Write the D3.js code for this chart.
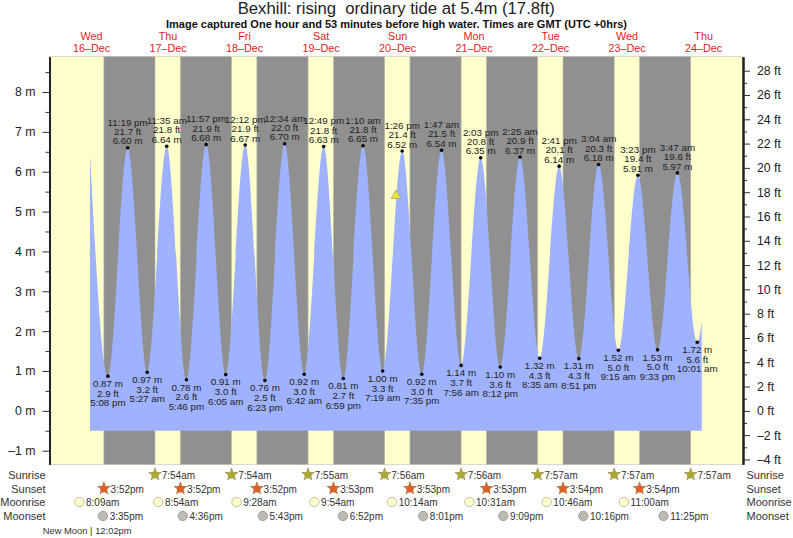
<!DOCTYPE html>
<html lang="en">
	<head>
		<meta charset="utf-8">
		<title>Bexhill tide chart</title>
		<script type="text/javascript" src="https://cdn.jsdelivr.net/npm/d3@7"></script>
		<style type="text/css">
			html, body { margin: 0; padding: 0; background: #fff; }
			svg { display: block; }
			text { font-family: "Liberation Sans", Arial, sans-serif; white-space: pre; }
		</style>
	</head>
	<body>
		<script type="text/javascript">
			// Tide turning points (first and last are the cut-off ends of the curve)
			var tideTimes = ["12-16T11:30","12-16T17:08","12-16T23:19","12-17T05:27","12-17T11:35","12-17T17:46","12-17T23:57",
				"12-18T06:05","12-18T12:12","12-18T18:23","12-19T00:34","12-19T06:42","12-19T12:49","12-19T18:59",
				"12-20T01:10","12-20T07:19","12-20T13:26","12-20T19:35","12-21T01:47","12-21T07:56","12-21T14:03",
				"12-21T20:12","12-22T02:25","12-22T08:35","12-22T14:41","12-22T20:51","12-23T03:04","12-23T09:15",
				"12-23T15:23","12-23T21:33","12-24T03:47","12-24T10:01","12-24T11:25"];
			var tideMetres = [6.46,0.87,6.60,0.97,6.64,0.78,6.68,0.91,6.67,0.76,6.70,0.92,6.63,0.81,6.65,1.00,6.52,0.92,6.54,
				1.14,6.35,1.10,6.37,1.32,6.14,1.31,6.18,1.52,5.91,1.53,5.97,1.72,2.23];
			var tideFeet = [null,2.9,21.7,3.2,21.8,2.6,21.9,3.0,21.9,2.5,22.0,3.0,21.8,2.7,21.8,3.3,21.4,3.0,21.5,
				3.7,20.8,3.6,20.9,4.3,20.1,4.3,20.3,5.0,19.4,5.0,19.6,5.6,null];

			var sunrises = ["12-17T07:54","12-18T07:54","12-19T07:55","12-20T07:56","12-21T07:56","12-22T07:57","12-23T07:57","12-24T07:57"];
			var sunsets = ["12-16T15:52","12-17T15:52","12-18T15:52","12-19T15:53","12-20T15:53","12-21T15:53","12-22T15:54","12-23T15:54"];
			var moonrises = ["12-16T08:09","12-17T08:54","12-18T09:28","12-19T09:54","12-20T10:14","12-21T10:31","12-22T10:46","12-23T11:00"];
			var moonsets = ["12-16T15:35","12-17T16:36","12-18T17:43","12-19T18:52","12-20T20:01","12-21T21:09","12-22T22:16","12-23T23:25"];

			var dayNoons = ["12-16T12:00","12-17T12:00","12-18T12:00","12-19T12:00","12-20T12:00","12-21T12:00","12-22T12:00","12-23T12:00","12-24T12:00"];
			var dayNames = ["Wed","Thu","Fri","Sat","Sun","Mon","Tue","Wed","Thu"];
			var dayDates = ["16–Dec","17–Dec","18–Dec","19–Dec","20–Dec","21–Dec","22–Dec","23–Dec","24–Dec"];

			var metreTicks = [-1,0,1,2,3,4,5,6,7,8];
			var metreMinor = [-0.5,0.5,1.5,2.5,3.5,4.5,5.5,6.5,7.5,8.5];
			var feetTicks = [-4,-2,0,2,4,6,8,10,12,14,16,18,20,22,24,26,28];
			var feetMinor = [-3,-1,1,3,5,7,9,11,13,15,17,19,21,23,25,27];

			var nowTime = "12-20T11:33";
			var nowMetres = 5.4;
			var waterFloor = -0.5;

			var w = 793;
			var h = 538;
			var left = 49.5, right = 743, top_ = 56.7, bottom = 464.3;

			function t(s) { return new Date("2020-" + s + "Z"); }

			var svg = d3.select("body").append("svg").attr("width", w).attr("height", h);

			// x is pinned on two sunrises, y on the 8 m and -1 m gridlines
			var x = d3.scaleUtc().domain([t("12-17T07:54"), t("12-24T07:57")]).range([155, 690.7]);
			var y = d3.scaleLinear().domain([-1, 8]).range([450.7, 92]);
			var yFeet = d3.scaleLinear().domain([-1 / 0.3048, 8 / 0.3048]).range([450.7, 92]);

			// Day / night background
			svg.append("rect").attr("x", left).attr("y", top_).attr("width", right - left).attr("height", bottom - top_)
				.attr("fill", "#ffffcc").attr("stroke", "#c4c4b4").attr("stroke-width", 0.6);
			svg.selectAll("rect.night")
				.data(sunsets)
				.enter()
				.append("rect")
				.attr("class", "night")
				.attr("x", function(d) { return x(t(d)); })
				.attr("y", top_)
				.attr("width", function(d, i) { return x(t(sunrises[i])) - x(t(d)); })
				.attr("height", bottom - top_)
				.attr("fill", "#909090")
				.attr("stroke", "#b8b8a8")
				.attr("stroke-width", 0.6);

			// Water
			var tide = tideTimes.map(function(d, i) { return { time: t(d), m: tideMetres[i], ft: tideFeet[i] }; });
			var area = d3.area()
				.x(function(d) { return x(d.time); })
				.y0(y(waterFloor))
				.y1(function(d) { return y(d.m); })
				.curve(d3.curveMonotoneX);
			svg.append("path").datum(tide).attr("d", area).attr("fill", "#9fb2ff");

			// Axes
			function styleAxis(g, width) {
				g.select(".domain").attr("stroke", "#222").attr("stroke-width", width);
				g.selectAll("line").attr("stroke", "#333").attr("stroke-width", 1);
				g.selectAll("text").attr("fill", "#222").attr("font-size", 12.3).attr("font-family", "Liberation Sans");
			}
			var yExtended = y.copy().domain([y.invert(bottom), y.invert(top_)]).range([bottom, top_]);
			var ftExtended = yFeet.copy().domain([yFeet.invert(bottom), yFeet.invert(top_)]).range([bottom, top_]);

			svg.append("g").attr("transform", "translate(" + left + ",0)")
				.call(d3.axisLeft(yExtended).tickValues(metreMinor).tickSize(4).tickSizeOuter(0).tickFormat(""))
				.call(styleAxis, 2);
			svg.append("g").attr("transform", "translate(" + left + ",0)")
				.call(d3.axisLeft(yExtended).tickValues(metreTicks).tickSize(7).tickSizeOuter(0).tickPadding(7)
					.tickFormat(function(d) { return (d < 0 ? "–" + (-d) : d) + " m"; }))
				.call(styleAxis, 2);
			svg.append("g").attr("transform", "translate(" + right + ",0)")
				.call(d3.axisRight(ftExtended).tickValues(feetMinor).tickSize(4).tickSizeOuter(0).tickFormat(""))
				.call(styleAxis, 2);
			svg.append("g").attr("transform", "translate(" + right + ",0)")
				.call(d3.axisRight(ftExtended).tickValues(feetTicks).tickSize(7).tickSizeOuter(0).tickPadding(7)
					.tickFormat(function(d) { return (d < 0 ? "–" + (-d) : d) + " ft"; }))
				.call(styleAxis, 2);

			// High and low water dots and labels
			var clock = d3.utcFormat("%-I:%M %p");
			var turning = tide.filter(function(d) { return d.ft !== null; });
			svg.selectAll("circle.turn")
				.data(turning)
				.enter()
				.append("circle")
				.attr("class", "turn")
				.attr("cx", function(d) { return x(d.time); })
				.attr("cy", function(d) { return y(d.m); })
				.attr("r", 1.8)
				.attr("fill", "#000");

			turning.forEach(function(d) {
				var isHigh = d.m > 3;
				var lines = [clock(d.time).toLowerCase(), d.ft.toFixed(1) + " ft", d.m.toFixed(2) + " m"];
				var offsets = [-22.2, -12.8, -3.4];
				if (!isHigh) {
					lines = [d.m.toFixed(2) + " m", d.ft.toFixed(1) + " ft", clock(d.time).toLowerCase()];
					offsets = [10.8, 20.6, 30.2];
				}
				lines.forEach(function(s, i) {
					svg.append("text")
						.attr("x", x(d.time))
						.attr("y", y(d.m) + offsets[i])
						.attr("text-anchor", "middle")
						.attr("font-size", 9.8)
						.attr("fill", "#222")
						.text(s);
				});
			});

			// Position of the tide when the image was captured
			svg.append("path")
				.attr("d", d3.symbol().type(d3.symbolTriangle).size(42)())
				.attr("transform", "translate(" + x(t(nowTime)) + "," + y(nowMetres) + ")")
				.attr("fill", "#e6e23c")
				.attr("stroke", "#a0a070")
				.attr("stroke-width", 0.7);

			// Titles
			svg.append("text").attr("x", 396.3).attr("y", 14).attr("text-anchor", "middle")
				.attr("font-size", 16.7).attr("fill", "#222").text("Bexhill: rising  ordinary tide at 5.4m (17.8ft)");
			svg.append("text").attr("x", 396.5).attr("y", 28).attr("text-anchor", "middle")
				.attr("font-size", 11).attr("font-weight", "bold").attr("fill", "#111")
				.text("Image captured One hour and 53 minutes before high water. Times are GMT (UTC +0hrs)");

			// Day headers
			svg.selectAll("text.day")
				.data(dayNames)
				.enter()
				.append("text")
				.attr("class", "day")
				.attr("x", function(d, i) { return x(t(dayNoons[i])); })
				.attr("y", 40)
				.attr("text-anchor", "middle")
				.attr("font-size", 10.8)
				.attr("fill", "#e41a1a")
				.text(function(d) { return d; });
			svg.selectAll("text.date")
				.data(dayDates)
				.enter()
				.append("text")
				.attr("class", "date")
				.attr("x", function(d, i) { return x(t(dayNoons[i])); })
				.attr("y", 52)
				.attr("text-anchor", "middle")
				.attr("font-size", 10.8)
				.attr("fill", "#e41a1a")
				.text(function(d) { return d; });

			// Sun and moon rows
			var rows = [
				{ name: "Sunrise", times: sunrises, y: 475, kind: "rise" },
				{ name: "Sunset", times: sunsets, y: 489, kind: "set" },
				{ name: "Moonrise", times: moonrises, y: 502, kind: "moonrise" },
				{ name: "Moonset", times: moonsets, y: 516, kind: "moonset" }
			];
			var shortClock = d3.utcFormat("%-I:%M%p");
			var star = d3.symbol().type(d3.symbolStar).size(48)();

			rows.forEach(function(row) {
				svg.append("text").attr("x", 45.5).attr("y", row.y + 4).attr("text-anchor", "end")
					.attr("font-size", 11).attr("fill", "#333").text(row.name);
				svg.append("text").attr("x", 746.5).attr("y", row.y + 4)
					.attr("font-size", 11).attr("fill", "#333").text(row.name);

				row.times.forEach(function(d) {
					var cx = x(t(d));
					if (row.kind === "rise" || row.kind === "set") {
						svg.append("path").attr("d", star)
							.attr("transform", "translate(" + cx + "," + (row.y - 0.5) + ")")
							.attr("fill", row.kind === "rise" ? "#c9b76a" : "#cf8a4a")
							.attr("stroke", row.kind === "rise" ? "#8f8440" : "#a8602c")
							.attr("stroke-width", 0.7);
						svg.append("circle").attr("cx", cx).attr("cy", row.y).attr("r", 3.6)
							.attr("fill", row.kind === "rise" ? "#a9a935" : "#dd6028");
					} else {
						svg.append("circle").attr("cx", cx).attr("cy", row.y).attr("r", 4.7)
							.attr("fill", row.kind === "moonrise" ? "#ffffcc" : "#bdbab2")
							.attr("stroke", row.kind === "moonrise" ? "#b4b498" : "#97958c")
							.attr("stroke-width", 0.8);
					}
					svg.append("text").attr("x", cx + 6.7).attr("y", row.y + 3.6)
						.attr("font-size", 10).attr("fill", "#333")
						.text(shortClock(t(d)).toLowerCase());
				});
			});

			svg.append("text").attr("x", 42.7).attr("y", 533.5)
				.attr("font-size", 9.4).attr("fill", "#333").text("New Moon | 12:02pm");
		</script>
	</body>
</html>
